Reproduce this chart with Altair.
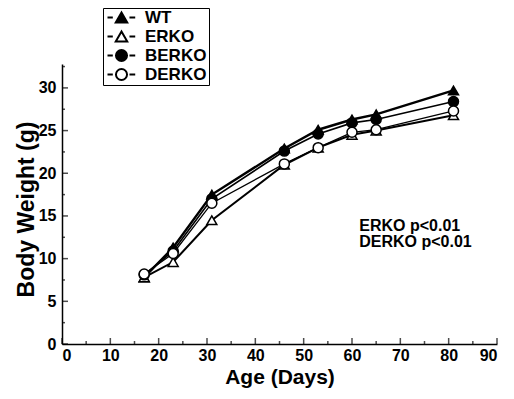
import altair as alt
import pandas as pd

# ---- data ----
series = ["WT", "ERKO", "BERKO", "DERKO"]
age = [17, 23, 31, 46, 53, 60, 65, 81]
wt = [7.8, 11.3, 17.5, 22.9, 25.1, 26.3, 26.9, 29.7]
erko = [7.8, 9.6, 14.5, 21.0, 23.0, 24.5, 25.0, 26.8]
berko = [8.1, 10.9, 17.0, 22.6, 24.6, 25.9, 26.3, 28.4]
derko = [8.2, 10.6, 16.5, 21.1, 23.0, 24.8, 25.1, 27.3]

x_major = [0, 10, 20, 30, 40, 50, 60, 70, 80, 90]
x_minor = [5, 15, 25, 35, 45, 55, 65, 75, 85]
y_major = [0, 5, 10, 15, 20, 25, 30]
y_minor = [2.5, 7.5, 12.5, 17.5, 22.5, 27.5, 32.5]

notes = ["ERKO p<0.01", "DERKO p<0.01"]
note_x = [61.5, 61.5]
note_y = [13.8, 11.9]

# ---- styling ----
point_shapes = ["triangle-up", "triangle-up", "circle", "circle"]
fills = ["black", "white", "black", "white"]
line_widths = [2.4, 1.3, 2.4, 1.5]
dash_path = "M-2,0H-1.24M1.14,0H1.96"
tri_path = dash_path + "M0,-0.72L0.82,0.7L-0.82,0.7Z"
circ_path = dash_path + "M0.79,0A0.79,0.79,0,1,1,-0.79,0A0.79,0.79,0,1,1,0.79,0Z"
legend_paths = [tri_path, tri_path, circ_path, circ_path]

FONT = "Liberation Sans"

rows = []
for name, vals in zip(series, [wt, erko, berko, derko]):
    for a, v in zip(age, vals):
        rows.append({"age": a, "weight": v, "series": name})
df = pd.DataFrame(rows)

xscale = alt.Scale(domain=[0, 90], nice=False, zero=False)
yscale = alt.Scale(domain=[0, 32.8], nice=False, zero=False)

xaxis = alt.Axis(values=x_major, title="Age (Days)", titleY=22, titleBaseline="top")
yaxis = alt.Axis(values=y_major, title="Body Weight (g)", titleX=-36, titleY=145, titleBaseline="middle")

X = alt.X("age:Q", scale=xscale, axis=xaxis)
Y = alt.Y("weight:Q", scale=yscale, axis=yaxis)

lines = alt.Chart(df).mark_line(color="black").encode(
    x=X, y=Y, detail="series:N",
    strokeWidth=alt.StrokeWidth("series:N", scale=alt.Scale(domain=series, range=line_widths), legend=None),
)

points = alt.Chart(df).mark_point(opacity=1, stroke="black", strokeWidth=1.5, size=100).encode(
    x=X, y=Y,
    shape=alt.Shape("series:N", scale=alt.Scale(domain=series, range=point_shapes), legend=None),
    fill=alt.Fill("series:N", scale=alt.Scale(domain=series, range=fills), legend=None),
    order=alt.Order("order:Q"),
).transform_calculate(order="indexof(['WT','ERKO','BERKO','DERKO'], datum.series)")

leg = alt.Legend(
    title=None, orient="none", legendX=41, legendY=-56,
    symbolSize=196, symbolStrokeColor="black", symbolStrokeWidth=2, symbolOffset=8,
    labelFont=FONT, labelFontSize=17, labelFontWeight="bold", labelColor="black",
    labelOffset=15, strokeColor="black", padding=2, rowPadding=1, clipHeight=15,
    fillColor="white",
)
legend_layer = alt.Chart(df).mark_point(opacity=1, strokeWidth=2).encode(
    x=X, y=Y,
    shape=alt.Shape("series:N", scale=alt.Scale(domain=series, range=legend_paths), legend=leg),
    fill=alt.Fill("series:N", scale=alt.Scale(domain=series, range=fills), legend=leg),
    stroke=alt.Stroke("series:N", scale=alt.Scale(domain=series, range=["black"] * 4), legend=leg),
).transform_filter("false")

text_df = pd.DataFrame({"age": note_x, "weight": note_y, "label": notes})
text = alt.Chart(text_df).mark_text(
    align="left", baseline="middle", font=FONT, fontSize=16, fontWeight="bold", color="black"
).encode(x=X, y=Y, text="label:N")

def xticks(vals, length):
    d = pd.DataFrame({"age": vals, "weight": [0] * len(vals)})
    return alt.Chart(d).mark_tick(orient="vertical", size=length, thickness=1.5,
                                  yOffset=-length / 2, color="black").encode(x=X, y=Y)

def yticks(vals, length):
    d = pd.DataFrame({"age": [0] * len(vals), "weight": vals})
    return alt.Chart(d).mark_tick(orient="horizontal", size=length, thickness=1.5,
                                  xOffset=length / 2, color="black").encode(x=X, y=Y)

chart = alt.layer(
    lines, points, text,
    xticks(x_major, 6), xticks(x_minor, 3), yticks(y_major, 6), yticks(y_minor, 3),
    legend_layer,
).resolve_scale(shape="independent", fill="independent", stroke="independent").properties(
    width=435, height=280,
    autosize=alt.AutoSizeParams(type="none"),
    padding={"left": 54, "top": 56, "right": 9, "bottom": 47},
).configure_view(stroke="transparent").configure_axis(
    grid=False, ticks=False, domainColor="black", domainWidth=1.5,
    labelFont=FONT, labelFontSize=16, labelFontWeight="bold", labelColor="black",
    labelPadding=3,
    titleFont=FONT, titleFontWeight="bold", titleColor="black",
).configure_axisX(titleFontSize=21).configure_axisY(titleFontSize=23, labelPadding=6)

chart.save("out.html", embed_options={"renderer": "svg", "actions": False})
